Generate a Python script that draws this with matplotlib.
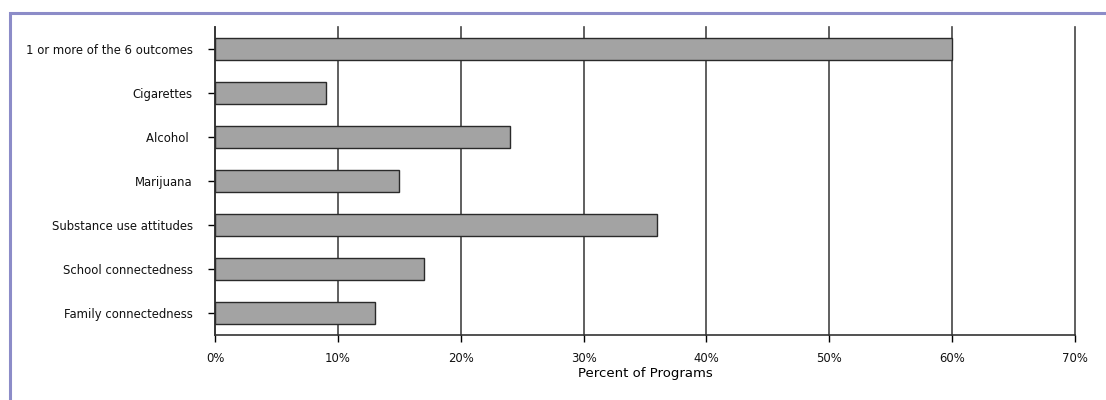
import matplotlib
matplotlib.use("Agg")
import matplotlib.pyplot as plt
from matplotlib.patches import Rectangle

categories = [
    "1 or more of the 6 outcomes",
    "Cigarettes",
    "Alcohol ",
    "Marijuana",
    "Substance use attitudes",
    "School connectedness",
    "Family connectedness",
]
percent = [60, 9, 24, 15, 36, 17, 13]
xticks = [0, 10, 20, 30, 40, 50, 60, 70]
xtick_labels = ["0%", "10%", "20%", "30%", "40%", "50%", "60%", "70%"]


def main():
    fig = plt.figure(figsize=(11.06, 4.0), dpi=100)
    ax = fig.add_axes([215 / 1106, 1 - 335 / 400, 860 / 1106, 308 / 400])

    ypos = list(range(len(categories)))
    ax.barh(ypos, percent, height=0.52, color="#a3a3a3", edgecolor="#2a2a2a",
            linewidth=1.0, zorder=3)

    ax.set_xlim(0, 70)
    ax.set_ylim(len(categories) - 0.5, -0.5)
    ax.set_yticks(ypos)
    ax.set_yticklabels(categories, fontsize=8.4, color="#111111")
    ax.set_xticks(xticks)
    ax.set_xticklabels(xtick_labels, fontsize=8.4, color="#111111")
    ax.set_xlabel("Percent of Programs", fontsize=9.5, labelpad=2)

    ax.xaxis.grid(True, color="#444444", linewidth=1.2, zorder=0)
    for line in ax.get_xgridlines():
        line.set_clip_on(False)
    ax.set_axisbelow(True)
    ax.tick_params(axis="y", length=5, width=1, pad=11)
    ax.tick_params(axis="x", length=5, width=1, pad=7)
    ax.spines["top"].set_visible(False)
    ax.spines["right"].set_visible(False)
    ax.spines["left"].set_color("#333333")
    ax.spines["bottom"].set_color("#333333")
    ax.spines["left"].set_linewidth(1.2)
    ax.spines["bottom"].set_linewidth(1.2)

    # outer frame, cut off at the right and bottom edges
    frame = Rectangle((9.5 / 1106, -0.05), 1.2, 1 - 13 / 400 + 0.05,
                      transform=fig.transFigure, fill=False,
                      edgecolor="#8c8cc8", linewidth=2.2, clip_on=False)
    fig.add_artist(frame)

    plt.savefig("out.png", dpi=100)


if __name__ == "__main__":
    main()
